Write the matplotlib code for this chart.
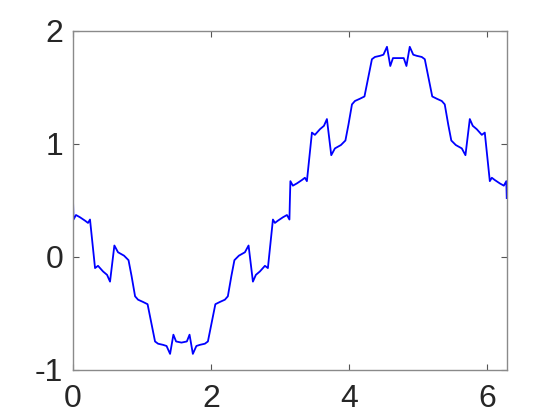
import numpy as np
import matplotlib
matplotlib.use("Agg")
import matplotlib.pyplot as plt

plt.rcParams['font.family'] = ['Liberation Sans', 'DejaVu Sans']
plt.rcParams['axes.unicode_minus'] = False

# Curve samples
x_vals = [
    0.000, 0.007, 0.043, 0.101, 0.174, 0.217, 0.246, 0.319, 0.362, 0.435,
    0.493, 0.536, 0.599, 0.652, 0.739, 0.804, 0.848, 0.899, 0.942, 1.014,
    1.080, 1.188, 1.232, 1.304, 1.355, 1.406, 1.454, 1.493, 1.571,
    1.649, 1.688, 1.736, 1.787, 1.838, 1.910, 1.954, 2.062, 2.128, 2.200,
    2.243, 2.294, 2.338, 2.403, 2.490, 2.543, 2.606, 2.649, 2.707, 2.780,
    2.823, 2.896, 2.925, 2.968, 3.041, 3.099, 3.135, 3.1416,
    3.149, 3.185, 3.243, 3.316, 3.359, 3.388, 3.461, 3.504, 3.577, 3.635,
    3.678, 3.741, 3.794, 3.881, 3.946, 3.990, 4.041, 4.084, 4.156, 4.222,
    4.330, 4.374, 4.446, 4.497, 4.548, 4.596, 4.635, 4.712,
    4.791, 4.830, 4.878, 4.929, 4.980, 5.052, 5.096, 5.204, 5.270, 5.342,
    5.385, 5.436, 5.480, 5.545, 5.632, 5.685, 5.748, 5.791, 5.849, 5.922,
    5.965, 6.038, 6.067, 6.110, 6.183, 6.241, 6.277, 6.2832,
]
y_vals = [
    0.50, 0.33, 0.37, 0.35, 0.32, 0.30, 0.33, -0.10, -0.08, -0.13,
    -0.16, -0.22, 0.10, 0.04, 0.01, -0.03, -0.17, -0.35, -0.38, -0.40,
    -0.42, -0.75, -0.77, -0.78, -0.79, -0.86, -0.69, -0.75, -0.76,
    -0.75, -0.69, -0.86, -0.79, -0.78, -0.77, -0.75, -0.42, -0.40, -0.38,
    -0.35, -0.17, -0.03, 0.01, 0.04, 0.10, -0.22, -0.16, -0.13, -0.08,
    -0.10, 0.33, 0.30, 0.32, 0.35, 0.37, 0.33, 0.50,
    0.67, 0.63, 0.65, 0.68, 0.70, 0.67, 1.10, 1.08, 1.13, 1.16,
    1.22, 0.90, 0.96, 0.99, 1.03, 1.17, 1.35, 1.38, 1.40, 1.42,
    1.75, 1.77, 1.78, 1.79, 1.86, 1.69, 1.76, 1.76,
    1.76, 1.69, 1.86, 1.79, 1.78, 1.77, 1.75, 1.42, 1.40, 1.38,
    1.35, 1.17, 1.03, 0.99, 0.96, 0.90, 1.22, 1.16, 1.13, 1.08,
    1.10, 0.67, 0.70, 0.68, 0.65, 0.63, 0.67, 0.52,
]
x_ticks = [0, 2, 4, 6]
y_ticks = [-1, 0, 1, 2]

fig = plt.figure(figsize=(5.6, 4.2), dpi=100)
ax = fig.add_axes([0.1304, 0.1198, 0.7745, 0.8064])
ax.plot(x_vals, y_vals, color=(0, 0, 1), linewidth=1.3)
ax.set_xlim(0, 2 * np.pi)
ax.set_ylim(-1, 2)
ax.set_xticks(x_ticks)
ax.set_yticks(y_ticks)
ax.set_xticklabels([str(t) for t in x_ticks])
ax.set_yticklabels([str(t) for t in y_ticks])
for s in ax.spines.values():
    s.set_color('#8a8a8a')
    s.set_linewidth(1.0)
ax.tick_params(axis='both', direction='in', length=4, width=0.8, color='#555555',
               labelsize=23, labelcolor='#262626', top=True, right=True)
ax.tick_params(axis='x', pad=10)
ax.tick_params(axis='y', pad=7)
fig.savefig('out.png', dpi=100)
